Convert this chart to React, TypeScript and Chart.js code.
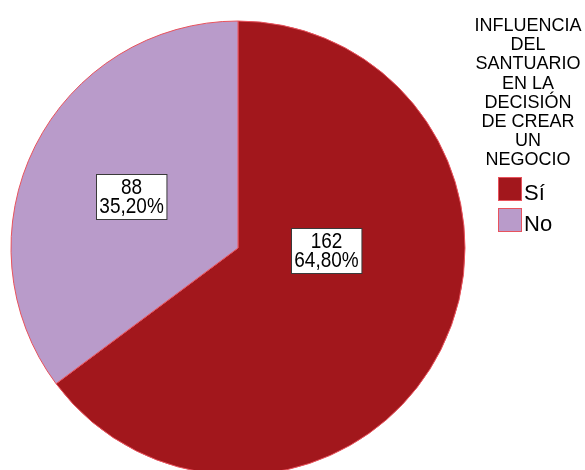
import React, { useEffect, useRef } from "react";
import { Chart, registerables } from "chart.js";

Chart.register(...registerables);

const categories: string[] = ["Sí", "No"];
const counts: number[] = [162, 88];
const percents: string[] = ["64,80%", "35,20%"];
const legendTitle: string[] = [
  "INFLUENCIA",
  "DEL",
  "SANTUARIO",
  "EN LA",
  "DECISIÓN",
  "DE CREAR",
  "UN",
  "NEGOCIO",
];
const sliceColors: string[] = ["#a2171c", "#b99bca"];
const edgeColor = "#e8535d";
const FONT = '"Liberation Sans", Arial, sans-serif';

// label placement (style): angle offset from slice mid-angle (deg) and radius fraction
const labelAngleOffset: number[] = [-25, -1];
const labelRadiusFrac: number[] = [0.39, 0.52];

const labelPlugin = {
  id: "spssLabels",
  afterDatasetsDraw(chart: any) {
    const ctx = chart.ctx;
    const meta = chart.getDatasetMeta(0);
    meta.data.forEach((arc: any, i: number) => {
      const p = arc.getProps(["x", "y", "startAngle", "endAngle", "outerRadius"], true);
      const mid = (p.startAngle + p.endAngle) / 2 + (labelAngleOffset[i] * Math.PI) / 180;
      const r = p.outerRadius * labelRadiusFrac[i];
      const cx = p.x + Math.cos(mid) * r;
      const cy = p.y + Math.sin(mid) * r;
      const lines = [String(counts[i]), percents[i]];
      ctx.save();
      ctx.font = `19px ${FONT}`;
      const w = Math.max(...lines.map((l) => ctx.measureText(l).width)) + 6;
      const h = 45;
      const bx = Math.round(cx - w / 2) + 0.5;
      const by = Math.round(cy - h / 2) + 0.5;
      ctx.fillStyle = "#ffffff";
      ctx.fillRect(bx, by, w, h);
      ctx.strokeStyle = "#3a3a3a";
      ctx.lineWidth = 1;
      ctx.strokeRect(bx, by, w, h);
      ctx.fillStyle = "#000000";
      ctx.textAlign = "center";
      ctx.textBaseline = "alphabetic";
      const baselines = [by + 19.5, by + 38];
      lines.forEach((l, k) => {
        ctx.save();
        ctx.translate(cx, baselines[k]);
        ctx.scale(1, 1.12);
        ctx.fillText(l, 0, 0);
        ctx.restore();
      });
      ctx.restore();
    });
  },
  afterDraw(chart: any) {
    const ctx = chart.ctx;
    ctx.save();
    ctx.fillStyle = "#000000";
    ctx.textAlign = "center";
    ctx.textBaseline = "alphabetic";
    ctx.font = `18px ${FONT}`;
    legendTitle.forEach((t, i) => {
      ctx.fillText(t, 528, 31 + i * 19.2);
    });
    ctx.textAlign = "left";
    ctx.font = `22px ${FONT}`;
    categories.forEach((c, i) => {
      const y = 177 + i * 31;
      ctx.fillStyle = sliceColors[i];
      ctx.fillRect(498.5, y + 0.5, 23, 23);
      ctx.strokeStyle = edgeColor;
      ctx.lineWidth = 1;
      ctx.strokeRect(498.5, y + 0.5, 23, 23);
      ctx.fillStyle = "#000000";
      ctx.fillText(c, 524, y + 22.5);
    });
    ctx.restore();
  },
};

export default function App() {
  const ref = useRef<HTMLCanvasElement | null>(null);
  useEffect(() => {
    if (!ref.current) return;
    const chart = new Chart(ref.current, {
      type: "pie",
      data: {
        labels: categories,
        datasets: [
          {
            data: counts,
            backgroundColor: sliceColors,
            borderColor: edgeColor,
            borderWidth: 1,
            clip: false as any,
          } as any,
        ],
      },
      options: {
        responsive: false,
        animation: false,
        radius: 227,
        layout: { padding: { left: 11, right: 120, top: 26, bottom: 0 } },
        plugins: {
          legend: { display: false },
          tooltip: { enabled: false },
        },
      } as any,
      plugins: [labelPlugin],
    });
    return () => chart.destroy();
  }, []);
  return (
    <div style={{ position: "fixed", left: 0, top: 0, width: 585, height: 470, background: "#fff" }}>
      <canvas ref={ref} width={585} height={470} style={{ display: "block" }} />
    </div>
  );
}
